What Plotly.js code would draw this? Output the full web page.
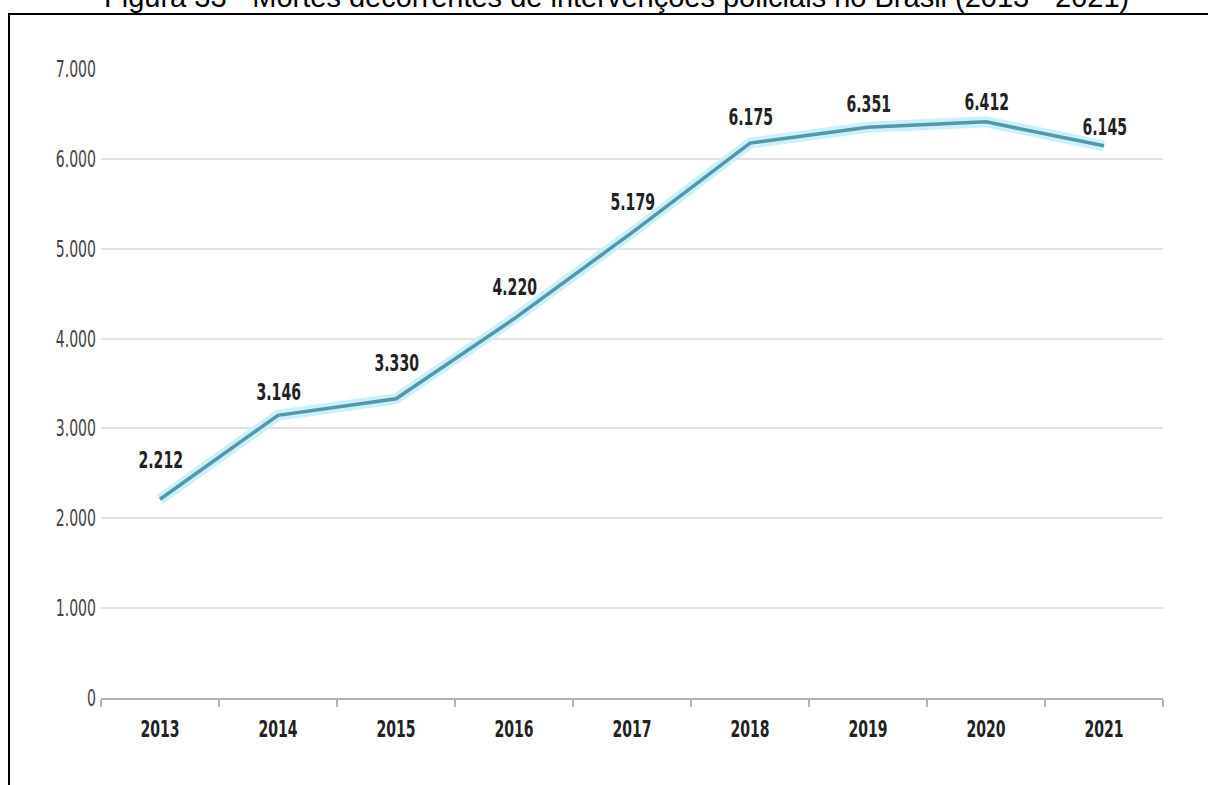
<!DOCTYPE html>
<html>
<head>
<meta charset="utf-8">
<script src="https://cdn.plot.ly/plotly-3.0.1.min.js"></script>
<style>
  html, body { margin: 0; padding: 0; background: #fff; overflow: hidden; }
  #wrap { position: relative; width: 1208px; height: 785px; }
  #chart { position: absolute; left: 0; top: 0; width: 1208px; height: 785px; }
  #frame { position: absolute; left: 8px; top: 13px; width: 1300px; height: 900px;
           border-top: 2.5px solid #000; border-left: 2.5px solid #000; pointer-events: none; }
</style>
</head>
<body>
<div id="wrap">
  <div id="chart"></div>
  <div id="frame"></div>
</div>
<script>
const titleText = 'Figura 33 - Mortes decorrentes de intervenções policiais no Brasil (2013 - 2021)';
const years = ['2013', '2014', '2015', '2016', '2017', '2018', '2019', '2020', '2021'];
const deaths = [2212, 3146, 3330, 4220, 5179, 6175, 6351, 6412, 6145];
const deathLabels = ['2.212', '3.146', '3.330', '4.220', '5.179', '6.175', '6.351', '6.412', '6.145'];
const yTicks = [0, 1000, 2000, 3000, 4000, 5000, 6000, 7000];
const yTickLabels = ['0', '1.000', '2.000', '3.000', '4.000', '5.000', '6.000', '7.000'];

// label lift in pixels above each point (styling of the value labels)
const labelLift = [39, 23, 36, 32, 31, 26, 23, 20, 19];

const narrow = '"Liberation Sans Narrow", "Arial Narrow", "DejaVu Sans Condensed", sans-serif';

const traces = [
  { x: years, y: deaths, type: 'scatter', mode: 'lines',
    line: { color: 'rgba(196,238,248,0.9)', width: 11 }, hoverinfo: 'skip', showlegend: false },
  { x: years, y: deaths, type: 'scatter', mode: 'lines',
    line: { color: '#5497a8', width: 3.5 }, showlegend: false }
];

const annotations = years.map((yr, i) => ({
  x: i, y: deaths[i], xref: 'x', yref: 'y',
  text: deathLabels[i], showarrow: false,
  xanchor: 'center', yanchor: 'middle', yshift: labelLift[i],
  font: { family: narrow, size: 23, color: '#222', weight: 'bold' }
}));
annotations.push({
  xref: 'paper', yref: 'paper', x: 0.485, y: 1.1137, xanchor: 'center', yanchor: 'middle',
  text: titleText, showarrow: false,
  font: { family: '"Liberation Sans", Arial, sans-serif', size: 29, color: '#000' }
});

const layout = {
  width: 1208, height: 785,
  margin: { l: 101, r: 45, t: 69, b: 87 },
  paper_bgcolor: '#fff', plot_bgcolor: '#fff',
  separators: ',.',
  showlegend: false,
  xaxis: {
    type: 'category', range: [-0.5, 8.5], fixedrange: true,
    showgrid: false, zeroline: false,
    showline: true, linecolor: '#b4b4b4', linewidth: 2,
    ticks: 'outside', tickson: 'boundaries', ticklen: 7, tickwidth: 1.5, tickcolor: '#b4b4b4',
    ticklabelstandoff: 9,
    tickfont: { family: narrow, size: 23, color: '#222', weight: 'bold' }
  },
  yaxis: {
    range: [0, 7000], fixedrange: true,
    tickmode: 'array', tickvals: yTicks, ticktext: yTickLabels,
    showgrid: true, gridcolor: '#e2e2e2', gridwidth: 2,
    zeroline: false, showline: false, ticks: '',
    ticklabelstandoff: 4,
    tickfont: { family: narrow, size: 23, color: '#444' }
  },
  annotations: annotations
};

function squeezeText(t, s, anchor) {
  const b = t.getBBox();
  const cx = anchor === 'end' ? b.x + b.width : b.x + b.width / 2;
  const base = t.getAttribute('transform') || '';
  t.setAttribute('transform', base + ` translate(${cx},0) scale(${s},1) translate(${-cx},0)`);
}

function squeeze() {
  const s = 0.68;
  document.querySelectorAll('#chart .ytick text').forEach(t => squeezeText(t, s, 'end'));
  document.querySelectorAll('#chart .xtick text').forEach(t => squeezeText(t, s, 'middle'));
  document.querySelectorAll('#chart .annotation-text').forEach(t => {
    if (deathLabels.includes(t.textContent)) squeezeText(t, s, 'middle');
  });
}

Plotly.newPlot('chart', traces, layout, { displayModeBar: false, staticPlot: true }).then(squeeze);
</script>
</body>
</html>
